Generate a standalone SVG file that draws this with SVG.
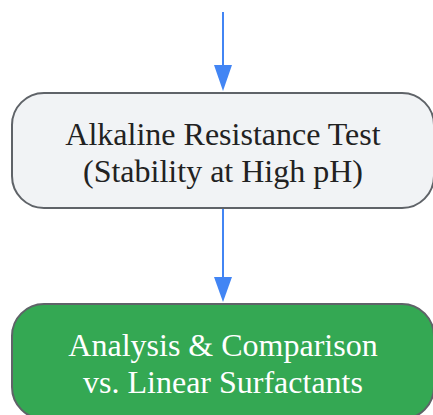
<svg xmlns="http://www.w3.org/2000/svg" width="433" height="415" viewBox="0 0 433 415">
<style>
.node rect{stroke:#5f6368;stroke-width:2}
.lbl{font-family:"Liberation Serif","Times New Roman",serif;font-size:32px;text-anchor:middle}
.edge{stroke:#4285f4;stroke-width:2;fill:none}
.head{fill:#4285f4}
</style>
<g id="connectors">
<line class="edge" x1="223" y1="12" x2="223" y2="66"/>
<path class="head" d="M214,65 L232,65 L223,91 Z"/>
<line class="edge" x1="223" y1="208" x2="223" y2="278"/>
<path class="head" d="M214,277 L232,277 L223,302 Z"/>
</g>
<g id="node1" class="node">
<rect x="12" y="93" width="422" height="115" rx="32" fill="#f1f3f5"/>
<text class="lbl" x="223" y="145" fill="#222">Alkaline Resistance Test</text>
<text class="lbl" x="223" y="182" fill="#222">(Stability at High pH)</text>
</g>
<g id="node2" class="node">
<rect x="12" y="304" width="422" height="115" rx="32" fill="#34a853"/>
<text class="lbl" x="223" y="356" fill="#fff">Analysis &amp; Comparison</text>
<text class="lbl" x="223" y="393" fill="#fff">vs. Linear Surfactants</text>
</g>
</svg>
